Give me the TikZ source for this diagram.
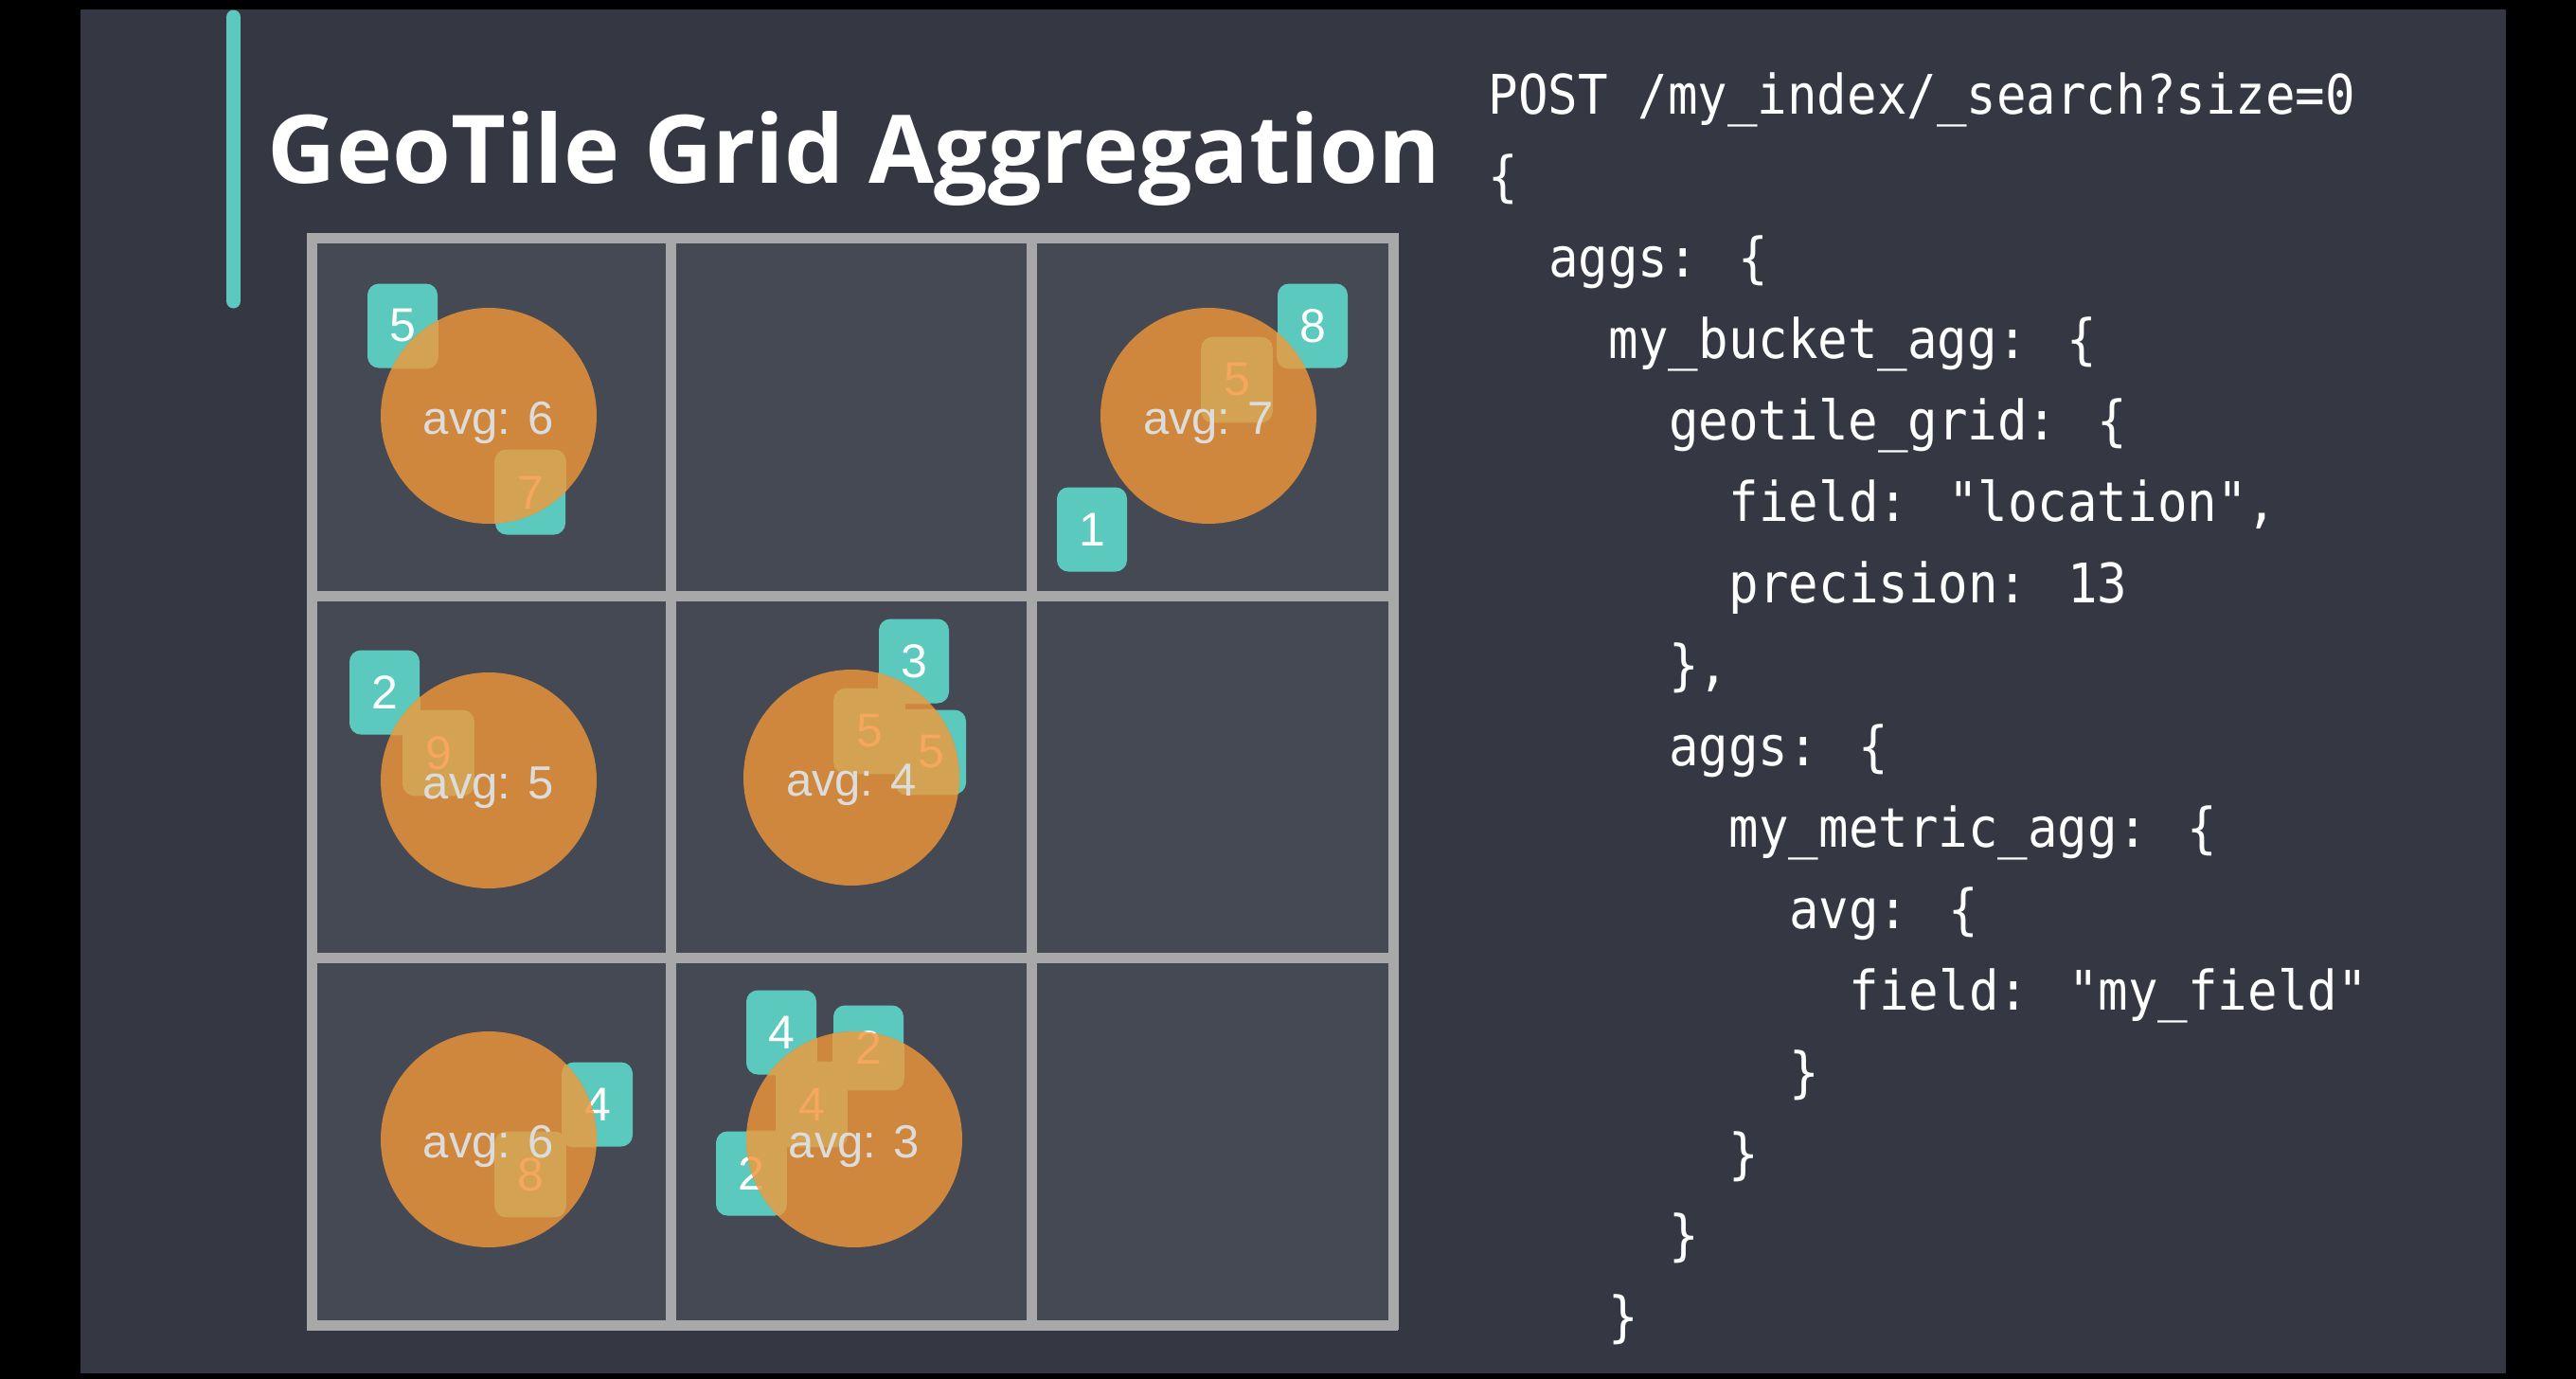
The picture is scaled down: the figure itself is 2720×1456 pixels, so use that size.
\documentclass[tikz,border=0pt]{standalone}
\usepackage{fontspec}
\newfontfamily\titlefont{Open Sans}
\newfontfamily\codefont[FakeStretch=0.91]{DejaVu Sans Mono}
\newfontfamily\labelfont{Liberation Sans}
\definecolor{slate}{RGB}{53,56,66}
\definecolor{cellgray}{RGB}{69,73,84}
\definecolor{linegray}{RGB}{168,168,168}
\definecolor{tealpin}{RGB}{91,201,189}
\definecolor{orangedot}{RGB}{206,135,60}
\definecolor{tanpin}{RGB}{211,163,83}
\definecolor{orangetext}{RGB}{246,166,93}
\definecolor{avgtext}{RGB}{220,220,220}
\tikzset{
  gridline/.style={line width=2.75pt,linegray},
  badge/.style={rectangle,rounded corners=3pt,minimum width=18.5pt,minimum height=22.25pt,
    inner sep=0pt,fill=tealpin,text=white,font=\labelfont\fontsize{12.5pt}{14pt}\selectfont},
  badgein/.style={inner sep=0pt,text=orangetext,font=\labelfont\fontsize{12.5pt}{14pt}\selectfont},
  dot/.style={circle,minimum size=57pt,inner sep=0pt,fill=orangedot},
  avglabel/.style={anchor=base,inner sep=0pt,text=avgtext,font=\labelfont\fontsize{12.25pt}{14pt}\selectfont},
  codeline/.style={anchor=base west,inner sep=0pt,text=white,font=\codefont\fontsize{14.4pt}{16pt}\selectfont}
}
\begin{document}
\begin{tikzpicture}[x=0.25pt,y=-0.25pt]
\useasboundingbox (0,0) rectangle (2720,1456);
%%% background
\fill[black] (0,0) rectangle (2720,1456);
\fill[slate] (85,10) rectangle (2646,1450);
\draw[line width=3.75pt,line cap=round,tealpin] (246.5,18) -- (246.5,318);
\node[anchor=base west,inner sep=0pt,text=white,font=\titlefont\bfseries\fontsize{25pt}{28pt}\selectfont] (title) at (282,193) {GeoTile Grid Aggregation};

%%% the 3x3 tiles
\fill[cellgray] (329,251) rectangle (1471,1399);
\foreach \gx in {329,708.5,1089,1471}{%
	\draw[gridline] (\gx,246) -- (\gx,1404);}
\foreach \gy in {251,629,1011,1399}{%
	\draw[gridline] (324,\gy) -- (1476,\gy);}

%%% documents (teal badges)
\foreach \bx/\by/\d [count=\n] in {425/344/5, 560/520/7, 1386/344/8, 1306/401/5, 1153/559/1,
	406/731/2, 463/795/9, 965/698/3, 918/772/5, 983/794/5,
	631/1166/4, 560/1240/8, 825/1090/4, 917/1106/2, 857/1166/4, 793/1239/2}{%
	\node[badge] (b\n) at (\bx,\by) {\d};
}

%%% buckets (orange dots)
\foreach \cx/\cy/\a [count=\m] in {516/439/6, 1276/439/7, 516/824/5, 899/821/4, 516/1203/6, 902/1203/3}{%
	\node[dot] (c\m) at (\cx,\cy) {};
}

%%% badges seen through the dots
\foreach \bx/\by/\d/\m [count=\n] in {425/344/5/1, 560/520/7/1, 1386/344/8/2, 1306/401/5/2, 1153/559/1/2,
	406/731/2/3, 463/795/9/3, 965/698/3/4, 918/772/5/4, 983/794/5/4,
	631/1166/4/5, 560/1240/8/5, 825/1090/4/6, 917/1106/2/6, 857/1166/4/6, 793/1239/2/6}{%
	\begin{scope}
		\clip (c\m.center) circle (28.5pt);
		\fill[tanpin,rounded corners=3pt] (b\n.south west) rectangle (b\n.north east);
		\node[badgein] (bi\n) at (b\n) {\d};
	\end{scope}
}

%%% averages
\foreach \cx/\cy/\a [count=\m] in {516/439/6, 1276/439/7, 516/824/5, 899/821/4, 516/1203/6, 902/1203/3}{%
	\node[avglabel] (avg\m) at (\cx,\cy+19) {avg: \a};
}

%%% request
\foreach \ind/\txt [count=\k from 0] in {0/{POST /my\_index/\_search?size=0}, 0/\{, 2/{aggs: \{},
	4/{my\_bucket\_agg: \{}, 6/{geotile\_grid: \{}, 8/{field: "location",}, 8/{precision: 13},
	6/{\},}, 6/{aggs: \{}, 8/{my\_metric\_agg: \{}, 10/{avg: \{}, 12/{field: "my\_field"},
	10/\}, 8/\}, 6/\}, 4/\}}{%
	\node[codeline] (code\k) at ({1571+31.75*\ind},{120+86*\k}) {\txt};
}
\end{tikzpicture}
\end{document}
